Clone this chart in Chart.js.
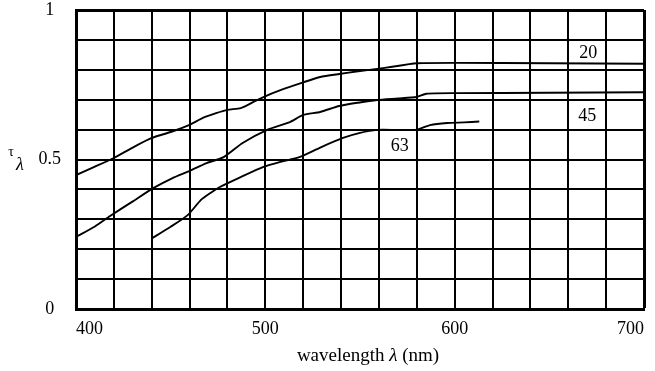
<!DOCTYPE html>
<html>
<head>
<meta charset="utf-8">
<script src="https://cdn.jsdelivr.net/npm/chart.js@4/dist/chart.umd.min.js"></script>
<style>
  html, body { margin: 0; padding: 0; background: #fff; }
  #wrap { width: 655px; height: 371px; }
</style>
</head>
<body>
<div id="wrap"><canvas id="c" width="655" height="371"></canvas></div>
<script>
// Spectral transmittance curves for three angles
const lambda20 = [400, 410, 420, 430, 440, 450, 460, 467, 474, 480, 487, 493, 499, 508, 520, 529, 539, 549, 559, 567, 576, 580, 600, 650, 700];
const tau20    = [0.448, 0.476, 0.505, 0.540, 0.572, 0.592, 0.616, 0.639, 0.655, 0.666, 0.672, 0.690, 0.709, 0.732, 0.758, 0.776, 0.786, 0.795, 0.803, 0.810, 0.819, 0.822, 0.823, 0.822, 0.820];

const lambda45 = [400, 410, 418, 430, 441, 451, 460, 469, 478, 488, 501, 513, 520, 529, 539, 549, 559, 570, 580, 585, 600, 650, 700];
const tau45    = [0.241, 0.276, 0.311, 0.360, 0.405, 0.438, 0.462, 0.488, 0.508, 0.555, 0.599, 0.625, 0.649, 0.659, 0.679, 0.690, 0.699, 0.704, 0.709, 0.720, 0.722, 0.723, 0.725];

const lambda63 = [440, 450, 459, 466, 471, 476, 487, 499, 508, 518, 529, 541, 550, 559, 570, 580, 587, 596, 605, 613];
const tau63    = [0.236, 0.275, 0.314, 0.365, 0.388, 0.408, 0.441, 0.475, 0.492, 0.508, 0.540, 0.572, 0.589, 0.599, 0.599, 0.600, 0.615, 0.622, 0.624, 0.627];

const curveNames = ['20', '45', '63'];
const xTickLabels = [400, 500, 600, 700];
const yTickLabels = [0, 0.5, 1];

const SERIF = '"Liberation Serif", "Times New Roman", serif';

function toPoints(xs, ys) {
  return xs.map((x, i) => ({ x: x, y: ys[i] }));
}

// where each curve's name box sits (data coordinates)
const nameSpots = [
  { x: 670.5, y: 0.86 },
  { x: 670, y: 0.648 },
  { x: 571, y: 0.548 }
];

const annotationPlugin = {
  id: 'curveNames',
  afterDatasetsDraw(chart) {
    const ctx = chart.ctx;
    const xs = chart.scales.x, ys = chart.scales.y;
    const area = chart.chartArea;
    ctx.save();
    ctx.font = '18px ' + SERIF;
    ctx.textAlign = 'center';
    ctx.textBaseline = 'middle';
    curveNames.forEach((name, i) => {
      const px = xs.getPixelForValue(nameSpots[i].x);
      const py = ys.getPixelForValue(nameSpots[i].y);
      const w = ctx.measureText(name).width;
      ctx.fillStyle = '#fff';
      ctx.fillRect(px - w / 2 - 4, py - 9, w + 8, 18);
      ctx.fillStyle = '#000';
      ctx.fillText(name, px, py + 1);
    });

    // y-axis symbol: tau with lambda subscript
    ctx.font = '14px ' + SERIF;
    ctx.fillText('\u03C4', 11, 152);
    ctx.font = 'italic 18px ' + SERIF;
    ctx.fillText('\u03BB', 20, 165);

    // x-axis title with an italic lambda
    const parts = [
      { t: 'wavelength ', f: '19px ' + SERIF },
      { t: '\u03BB', f: 'italic 19px ' + SERIF },
      { t: ' (nm)', f: '19px ' + SERIF }
    ];
    let total = 0;
    parts.forEach(p => { ctx.font = p.f; p.w = ctx.measureText(p.t).width; total += p.w; });
    let x = (area.left + area.right) / 2 + 8 - total / 2;
    const y = area.bottom + 47;
    ctx.textAlign = 'left';
    parts.forEach(p => { ctx.font = p.f; ctx.fillText(p.t, x, y); x += p.w; });
    ctx.restore();
  }
};

const lineStyle = {
  borderColor: '#000',
  borderWidth: 1.9,
  pointRadius: 0,
  fill: false,
  tension: 0.2,
  showLine: true
};

new Chart(document.getElementById('c'), {
  type: 'scatter',
  data: {
    datasets: [
      Object.assign({ label: curveNames[0], data: toPoints(lambda20, tau20) }, lineStyle),
      Object.assign({ label: curveNames[1], data: toPoints(lambda45, tau45) }, lineStyle),
      Object.assign({ label: curveNames[2], data: toPoints(lambda63, tau63) }, lineStyle)
    ]
  },
  options: {
    responsive: false,
    animation: false,
    devicePixelRatio: 1,
    layout: { padding: { top: 10, right: 11, left: 0, bottom: 0 } },
    plugins: {
      legend: { display: false },
      tooltip: { enabled: false }
    },
    scales: {
      x: {
        type: 'linear',
        min: 400,
        max: 700,
        afterFit(scale) {
          scale.height = 62;
          scale.paddingLeft = 0;
          scale.paddingRight = 0;
        },
        ticks: {
          stepSize: 20,
          autoSkip: false,
          maxRotation: 0,
          align: 'inner',
          padding: 9,
          color: '#000',
          font: { family: SERIF, size: 18 },
          callback: (v) => xTickLabels.includes(v) ? String(v) : ''
        },
        grid: {
          color: '#000',
          lineWidth: (c) => (c.tick && (c.tick.value === 700)) ? 3 : 2,
          drawTicks: false
        },
        border: { display: true, color: '#000', width: 3 }
      },
      y: {
        min: 0,
        max: 1,
        afterFit(scale) {
          scale.width = 76;
          scale.paddingTop = 0;
          scale.paddingBottom = 0;
        },
        ticks: {
          stepSize: 0.1,
          autoSkip: false,
          crossAlign: 'center',
          padding: 15,
          color: '#000',
          font: { family: SERIF, size: 18 },
          callback: (v) => {
            const r = Math.round(v * 10) / 10;
            return yTickLabels.includes(r) ? String(r) : '';
          }
        },
        grid: {
          color: '#000',
          lineWidth: (c) => (c.tick && Math.abs(c.tick.value - 1) < 1e-6) ? 3 : 2,
          drawTicks: false
        },
        border: { display: true, color: '#000', width: 3 }
      }
    }
  },
  plugins: [annotationPlugin]
});
</script>
</body>
</html>
